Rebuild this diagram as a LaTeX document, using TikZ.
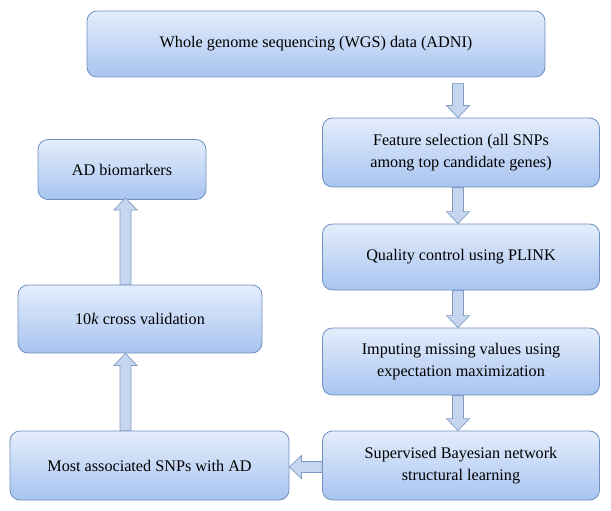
\documentclass[tikz,border=0pt]{standalone}
\usepackage{fontspec}
\setmainfont{Liberation Serif}
\usetikzlibrary{calc}
\definecolor{boxtop}{HTML}{E4EDFC}
\definecolor{boxbot}{HTML}{A8C4F0}
\definecolor{boxline}{HTML}{6F8FC0}
\definecolor{arrfill}{HTML}{C6D6EE}
\definecolor{arrline}{HTML}{7E9BC6}
\tikzset{
  box/.style={draw=boxline, line width=0.8pt, rounded corners=10pt,
    top color=boxtop, bottom color=boxbot, align=center,
    font=\fontsize{16.2}{22}\selectfont, inner sep=0pt},
  fatarrow/.style={draw=arrline, fill=arrfill, line width=0.7pt, line join=miter}
}
\newcommand\fatarr[2]{%
  \draw[fatarrow] ($(#1)!5.5pt!90:(#2)$) -- ($($(#2)!12pt!(#1)$)!5.5pt!90:(#2)$)
    -- ($($(#2)!12pt!(#1)$)!11.5pt!90:(#2)$) -- (#2)
    -- ($($(#2)!12pt!(#1)$)!11.5pt!-90:(#2)$)
    -- ($($(#2)!12pt!(#1)$)!5.5pt!-90:(#2)$)
    -- ($(#1)!5.5pt!-90:(#2)$) -- cycle;}
\begin{document}
\begin{tikzpicture}[x=1pt,y=-1pt]
\useasboundingbox (0,0) rectangle (611,511);
\node[box, minimum width=458pt, minimum height=66pt] (top) at (316,44) {Whole genome sequencing (WGS) data (ADNI)};
\node[box, minimum width=277pt, minimum height=69pt] (feat) at (461,152.5) {Feature selection (all SNPs\\among top candidate genes)};
\node[box, minimum width=277pt, minimum height=66pt] (qc) at (461,257) {Quality control using PLINK};
\node[box, minimum width=277pt, minimum height=67pt] (imp) at (461,361.5) {Imputing missing values using\\expectation maximization};
\node[box, minimum width=277pt, minimum height=69pt] (sup) at (461,465.5) {Supervised Bayesian network\\structural learning};
\node[box, minimum width=279pt, minimum height=69pt] (most) at (149.5,465.5) {Most associated SNPs with AD};
\node[box, minimum width=244pt, minimum height=68pt] (cv) at (140,319) {10\textit{k} cross validation};
\node[box, minimum width=168pt, minimum height=60pt] (adb) at (122,169.5) {AD biomarkers};
\coordinate (a1s) at ($(top.south -| feat.south)+(-3,6)$);
\coordinate (a1e) at ($(feat.north)+(-3,0)$);
\coordinate (a2s) at ($(feat.south)+(-3,0)$);
\coordinate (a2e) at ($(qc.north)+(-3,0)$);
\coordinate (a3s) at ($(qc.south)+(-3,0)$);
\coordinate (a3e) at ($(imp.north)+(-3,0)$);
\coordinate (a4s) at ($(imp.south)+(-3,0)$);
\coordinate (a4e) at ($(sup.north)+(-3,0)$);
\coordinate (a5s) at ($(sup.west)+(0,1.5)$);
\coordinate (a5e) at ($(most.east)+(0,1.5)$);
\coordinate (a6s) at ($(most.north -| adb.south)+(3.5,0)$);
\coordinate (a6e) at ($(cv.south -| adb.south)+(3.5,0)$);
\coordinate (a7s) at ($(cv.north -| adb.south)+(3.5,0)$);
\coordinate (a7e) at ($(adb.south)+(3.5,-2)$);
\fatarr{a1s}{a1e}
\fatarr{a2s}{a2e}
\fatarr{a3s}{a3e}
\fatarr{a4s}{a4e}
\fatarr{a5s}{a5e}
\fatarr{a6s}{a6e}
\fatarr{a7s}{a7e}
\end{tikzpicture}
\end{document}
